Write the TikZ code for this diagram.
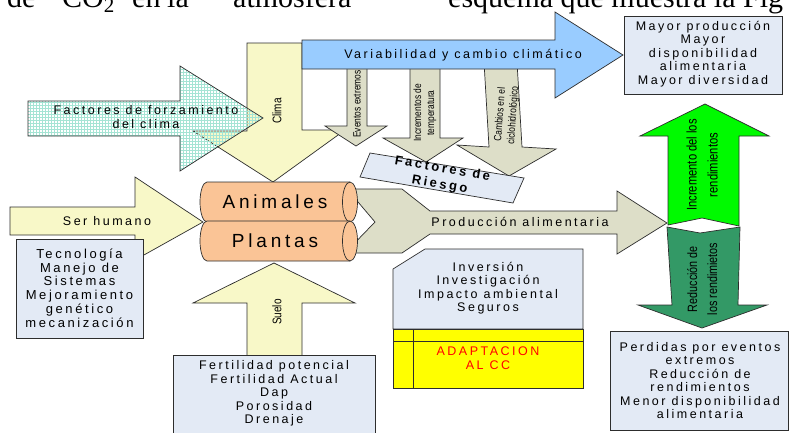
\documentclass[tikz,border=0pt]{standalone}
\usepackage{graphicx}
\usepackage{fontspec}
\setmainfont{Liberation Sans}[LetterSpace=20]
\newfontfamily\plainsans{Liberation Sans}
\newfontfamily\serifx{Liberation Serif}
\usetikzlibrary{patterns}
\definecolor{climay}{RGB}{248,248,200}
\definecolor{skyb}{RGB}{153,204,255}
\definecolor{boxf}{RGB}{227,234,245}
\definecolor{grayg}{RGB}{221,222,200}
\definecolor{peach}{RGB}{250,196,150}
\definecolor{brightg}{RGB}{0,250,0}
\definecolor{darkg}{RGB}{51,153,102}
\definecolor{yell}{RGB}{255,255,0}
\definecolor{hatch}{RGB}{165,228,212}
\definecolor{edge}{RGB}{45,45,45}
\newcommand{\nrw}[1]{\scalebox{0.8}[1]{#1}}
\tikzset{
  shp/.style={draw=edge, line width=0.7pt, line join=miter},
  lbl/.style={inner sep=0pt, align=center, font=\fontsize{12.5}{13.6}\selectfont},
  rotlbl/.style={inner sep=0pt, rotate=90, font=\plainsans\fontsize{10.5}{13}\selectfont},
  boxtxt/.style={inner sep=0pt, align=center, font=\fontsize{12.5}{13.5}\selectfont},
  toptxt/.style={inner sep=0pt, anchor=base west, font=\serifx\fontsize{30}{30}\selectfont}
}
\begin{document}
\begin{tikzpicture}[x=1pt,y=-1pt]
\useasboundingbox (0,0) rectangle (790,432);
\clip (0,0) rectangle (790,432);
\fill[white] (0,0) rectangle (790,432);

% top cut text
\node[toptxt] (t1) at (7,7) {de};
\node[toptxt] (t2) at (62,7) {CO\textsubscript{2}};
\node[toptxt] (t3) at (132,7) {en};
\node[toptxt] (t4) at (167,7) {la};
\node[toptxt] (t5) at (233,7) {atmósfera};
\node[toptxt] (t6) at (448,7) {esquema que muestra la Fig};

% Clima arrow
\path[shp, fill=climay] (247,43) -- (302,43) -- (302,130) -- (345,130) -- (273,182) -- (193,131) -- (247,131) -- cycle;
\node[rotlbl, font=\plainsans\fontsize{12.5}{13}\selectfont] (clima) at (277,111) {\nrw{Clima}};

% gray arrows from variability
\path[shp, fill=grayg] (347,62) -- (367,62) -- (367,126) -- (387,126) -- (356,146) -- (325,126) -- (347,126) -- cycle;
\path[shp, fill=grayg] (410,62) -- (440,62) -- (440,138) -- (463,138) -- (426,162) -- (383,138) -- (410,138) -- cycle;
\path[shp, fill=grayg] (484,62) -- (517,62) -- (522,147) -- (556,149) -- (509,176) -- (457,145) -- (489,147) -- cycle;
\node[rotlbl] (ev) at (357,104) {\nrw{Eventos extremos}};
\node[rotlbl] (inc) at (425,113) {\nrw{\begin{tabular}{@{}c@{}}Incrementos de\\temperatura\end{tabular}}};
\node[rotlbl, rotate=-4] (cam) at (507,115) {\nrw{\begin{tabular}{@{}c@{}}Cambios en el\\ciclohidrológico\end{tabular}}};

% blue arrow
\path[shp, fill=skyb] (302,40) -- (555,40) -- (555,12) -- (623,55) -- (555,98) -- (555,69) -- (302,69) -- cycle;
\node[lbl] (var) at (463,55) {Variabilidad y cambio climático};

% Factores de forzamiento (hatched)
\path[shp, pattern=grid, pattern color=hatch] (28,101) -- (180,101) -- (180,66) -- (263,118) -- (180,171) -- (180,136) -- (28,136) -- cycle;
\node[lbl] (forz) at (146,117) {Factores de forzamiento\\del clima};

% Factores de Riesgo
\path[shp, fill=boxf] (370,153) -- (524,178) -- (513,203) -- (360,177) -- cycle;
\node[lbl, rotate=-10, font=\bfseries\fontsize{13}{16}\selectfont] (riesgo) at (441,177) {Factores de\\Riesgo};

% Produccion alimentaria
\path[shp, fill=grayg] (347,189) -- (402,189) -- (430,211) -- (617,211) -- (617,191) -- (667,223) -- (617,254) -- (617,234) -- (430,234) -- (402,253) -- (345,253) -- (375,222) -- cycle;
\node[lbl] (prod) at (520,222) {Producción alimentaria};

% Ser humano arrow
\path[shp, fill=climay] (10,207) -- (135,207) -- (135,177) -- (203,222) -- (135,260) -- (135,235) -- (10,235) -- cycle;
\node[lbl] (ser) at (107,221) {Ser humano};

% cylinders
\foreach \cy/\nm in {202/Animales, 241/Plantas}{
  \path[shp, fill=peach] (207,\cy-20) -- (350,\cy-20) arc[start angle=-90, end angle=90, x radius=7.5, y radius=20] -- (207,\cy+20) arc[start angle=90, end angle=270, x radius=7, y radius=20] -- cycle;
  \draw[edge, line width=0.7pt] (350,\cy-20) arc[start angle=-90, end angle=-270, x radius=7.5, y radius=20];
}
\node[inner sep=0pt, font=\fontsize{19}{20}\selectfont] (anim) at (275,202) {Animales};
\node[inner sep=0pt, font=\fontsize{19}{20}\selectfont] (plan) at (275,241) {Plantas};

% Tecnologia box
\path[shp, fill=boxf] (16,239) rectangle (143,338);
\node[boxtxt, font=\fontsize{13}{13.8}\selectfont] (tec) at (79.5,288) {Tecnología\\Manejo de\\Sistemas\\Mejoramiento\\genético\\mecanización};

% Suelo arrow and box
\path[shp, fill=climay] (247,360) -- (247,303) -- (193,303) -- (274,263) -- (355,303) -- (302,303) -- (302,360) -- cycle;
\node[rotlbl, font=\plainsans\fontsize{12.5}{13}\selectfont] (suelo) at (277,312) {\nrw{Suelo}};
\path[shp, fill=boxf] (173,355) rectangle (375,440);
\node[boxtxt] (suelotx) at (274,393.5) {Fertilidad potencial\\Fertilidad Actual\\Dap\\Porosidad\\Drenaje};

% Inversion box
\path[shp, fill=boxf] (425,249) -- (583,249) -- (583,329) -- (393,329) -- (393,269) -- cycle;
\node[boxtxt] (inv) at (488,288) {Inversión\\Investigación\\Impacto ambiental\\Seguros};
\path[shp, fill=yell] (393,329) rectangle (583,388);
\draw[edge, line width=0.7pt] (393,341) -- (583,341);
\draw[edge, line width=0.7pt] (413,329) -- (413,388);
\node[boxtxt, text=red] (adap) at (488,358) {ADAPTACION\\AL CC};

% green arrows
\path[shp, fill=brightg] (668,225) -- (668,136) -- (640,136) -- (705,104) -- (769,136) -- (739,136) -- (739,226) -- (702,218) -- cycle;
\node[rotlbl, font=\plainsans\fontsize{14}{21}\selectfont] (incr) at (703,165) {\nrw{\begin{tabular}{@{}c@{}}Incremento del los\\rendimientos\end{tabular}}};
\path[shp, fill=darkg] (667,227) -- (700,233) -- (740,227) -- (738,305) -- (767,305) -- (702,328) -- (638,305) -- (672,305) -- cycle;
\node[rotlbl, font=\plainsans\fontsize{13.5}{20}\selectfont] (red) at (703,279) {\nrw{\begin{tabular}{@{}c@{}}Reducción de\\los rendimietos\end{tabular}}};

% Mayor box
\path[shp, fill=boxf] (624,16) rectangle (782,94);
\node[boxtxt] (mayor) at (703,54) {Mayor producción\\Mayor\\disponibilidad\\alimentaria\\Mayor diversidad};

% Perdidas box
\path[shp, fill=boxf] (610,331) rectangle (788,430);
\node[boxtxt] (perd) at (700,380.5) {Perdidas por eventos\\extremos\\Reducción de\\rendimientos\\Menor disponibilidad\\alimentaria};
\end{tikzpicture}
\end{document}
